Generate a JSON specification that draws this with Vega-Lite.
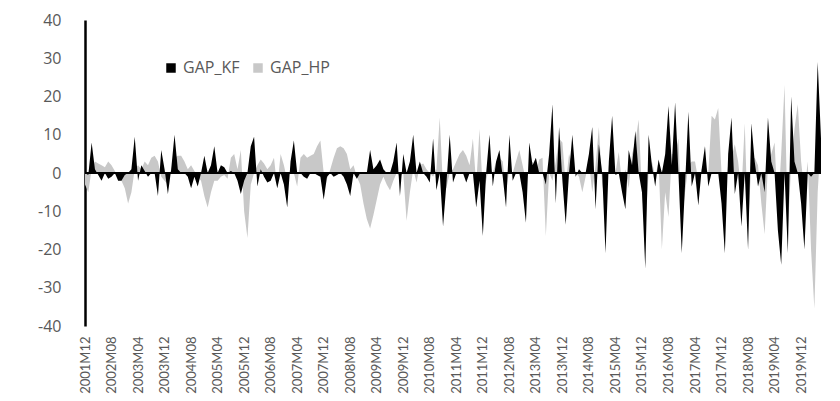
{
  "$schema": "https://vega.github.io/schema/vega-lite/v6.json",
  "width": 736,
  "height": 306,
  "autosize": {"type": "none"},
  "padding": {"left": 85, "top": 20, "right": 19, "bottom": 75},
  "background": "white",
  "config": {"view": {"stroke": null}, "font": "Open Sans", "axis": {"labelOverlap": false}},
  "layer": [
    {
      "data": {"values": [
        {"t":"2001M12","GAP_KF":0,"GAP_HP":-3},
        {"t":"2002M01","GAP_KF":-0.5,"GAP_HP":-5},
        {"t":"2002M02","GAP_KF":8,"GAP_HP":1},
        {"t":"2002M03","GAP_KF":1,"GAP_HP":3},
        {"t":"2002M04","GAP_KF":-0.5,"GAP_HP":2.5},
        {"t":"2002M05","GAP_KF":-2,"GAP_HP":2},
        {"t":"2002M06","GAP_KF":0,"GAP_HP":1.5},
        {"t":"2002M07","GAP_KF":-1.5,"GAP_HP":3},
        {"t":"2002M08","GAP_KF":-1,"GAP_HP":2},
        {"t":"2002M09","GAP_KF":0,"GAP_HP":0.5},
        {"t":"2002M10","GAP_KF":-2,"GAP_HP":-1},
        {"t":"2002M11","GAP_KF":-2,"GAP_HP":-2},
        {"t":"2002M12","GAP_KF":-0.5,"GAP_HP":-4},
        {"t":"2003M01","GAP_KF":0,"GAP_HP":-8},
        {"t":"2003M02","GAP_KF":1,"GAP_HP":-5},
        {"t":"2003M03","GAP_KF":9.5,"GAP_HP":1},
        {"t":"2003M04","GAP_KF":-2,"GAP_HP":2},
        {"t":"2003M05","GAP_KF":2,"GAP_HP":1},
        {"t":"2003M06","GAP_KF":0.5,"GAP_HP":3},
        {"t":"2003M07","GAP_KF":-1,"GAP_HP":2},
        {"t":"2003M08","GAP_KF":0,"GAP_HP":4},
        {"t":"2003M09","GAP_KF":0,"GAP_HP":4.5},
        {"t":"2003M10","GAP_KF":-6,"GAP_HP":3},
        {"t":"2003M11","GAP_KF":6,"GAP_HP":-1},
        {"t":"2003M12","GAP_KF":1,"GAP_HP":-2},
        {"t":"2004M01","GAP_KF":-5.5,"GAP_HP":-3},
        {"t":"2004M02","GAP_KF":1,"GAP_HP":1},
        {"t":"2004M03","GAP_KF":10,"GAP_HP":4},
        {"t":"2004M04","GAP_KF":1,"GAP_HP":4.5},
        {"t":"2004M05","GAP_KF":0,"GAP_HP":4.5},
        {"t":"2004M06","GAP_KF":0,"GAP_HP":3},
        {"t":"2004M07","GAP_KF":-1,"GAP_HP":1},
        {"t":"2004M08","GAP_KF":-4,"GAP_HP":2},
        {"t":"2004M09","GAP_KF":-1,"GAP_HP":0.5},
        {"t":"2004M10","GAP_KF":-3.5,"GAP_HP":-1},
        {"t":"2004M11","GAP_KF":0,"GAP_HP":-2},
        {"t":"2004M12","GAP_KF":4.5,"GAP_HP":-6},
        {"t":"2005M01","GAP_KF":0,"GAP_HP":-9},
        {"t":"2005M02","GAP_KF":2,"GAP_HP":-5},
        {"t":"2005M03","GAP_KF":7,"GAP_HP":-2},
        {"t":"2005M04","GAP_KF":0,"GAP_HP":-2},
        {"t":"2005M05","GAP_KF":2,"GAP_HP":-1},
        {"t":"2005M06","GAP_KF":1.5,"GAP_HP":-0.5},
        {"t":"2005M07","GAP_KF":0,"GAP_HP":-1.5},
        {"t":"2005M08","GAP_KF":0.5,"GAP_HP":4},
        {"t":"2005M09","GAP_KF":0,"GAP_HP":5},
        {"t":"2005M10","GAP_KF":-2,"GAP_HP":1},
        {"t":"2005M11","GAP_KF":-5.5,"GAP_HP":6},
        {"t":"2005M12","GAP_KF":-2,"GAP_HP":-10},
        {"t":"2006M01","GAP_KF":0,"GAP_HP":-17},
        {"t":"2006M02","GAP_KF":7,"GAP_HP":-3},
        {"t":"2006M03","GAP_KF":9.5,"GAP_HP":0},
        {"t":"2006M04","GAP_KF":-3.5,"GAP_HP":2},
        {"t":"2006M05","GAP_KF":1,"GAP_HP":3.5},
        {"t":"2006M06","GAP_KF":-1,"GAP_HP":2.5},
        {"t":"2006M07","GAP_KF":-2.5,"GAP_HP":1},
        {"t":"2006M08","GAP_KF":-2,"GAP_HP":2},
        {"t":"2006M09","GAP_KF":0,"GAP_HP":4},
        {"t":"2006M10","GAP_KF":-4,"GAP_HP":-4},
        {"t":"2006M11","GAP_KF":0,"GAP_HP":5},
        {"t":"2006M12","GAP_KF":-3,"GAP_HP":2},
        {"t":"2007M01","GAP_KF":-9,"GAP_HP":-2},
        {"t":"2007M02","GAP_KF":3,"GAP_HP":1},
        {"t":"2007M03","GAP_KF":8.5,"GAP_HP":0},
        {"t":"2007M04","GAP_KF":0,"GAP_HP":-3.5},
        {"t":"2007M05","GAP_KF":0,"GAP_HP":4},
        {"t":"2007M06","GAP_KF":-1,"GAP_HP":5},
        {"t":"2007M07","GAP_KF":-1.5,"GAP_HP":4},
        {"t":"2007M08","GAP_KF":0,"GAP_HP":4.5},
        {"t":"2007M09","GAP_KF":0,"GAP_HP":5},
        {"t":"2007M10","GAP_KF":-0.5,"GAP_HP":7},
        {"t":"2007M11","GAP_KF":-1,"GAP_HP":8.5},
        {"t":"2007M12","GAP_KF":-7,"GAP_HP":0},
        {"t":"2008M01","GAP_KF":-1,"GAP_HP":-1.5},
        {"t":"2008M02","GAP_KF":0,"GAP_HP":1},
        {"t":"2008M03","GAP_KF":-1,"GAP_HP":4},
        {"t":"2008M04","GAP_KF":-0.5,"GAP_HP":6.5},
        {"t":"2008M05","GAP_KF":0,"GAP_HP":7},
        {"t":"2008M06","GAP_KF":-1,"GAP_HP":6.5},
        {"t":"2008M07","GAP_KF":-3,"GAP_HP":5},
        {"t":"2008M08","GAP_KF":-6,"GAP_HP":1},
        {"t":"2008M09","GAP_KF":0,"GAP_HP":2},
        {"t":"2008M10","GAP_KF":-1.5,"GAP_HP":-1},
        {"t":"2008M11","GAP_KF":0,"GAP_HP":-3},
        {"t":"2008M12","GAP_KF":0,"GAP_HP":-8},
        {"t":"2009M01","GAP_KF":0,"GAP_HP":-12},
        {"t":"2009M02","GAP_KF":6,"GAP_HP":-14.5},
        {"t":"2009M03","GAP_KF":1,"GAP_HP":-11},
        {"t":"2009M04","GAP_KF":2,"GAP_HP":-7},
        {"t":"2009M05","GAP_KF":3.5,"GAP_HP":-3},
        {"t":"2009M06","GAP_KF":1,"GAP_HP":-1},
        {"t":"2009M07","GAP_KF":0,"GAP_HP":-3},
        {"t":"2009M08","GAP_KF":0,"GAP_HP":-4.5},
        {"t":"2009M09","GAP_KF":3,"GAP_HP":-2},
        {"t":"2009M10","GAP_KF":8,"GAP_HP":0},
        {"t":"2009M11","GAP_KF":-6,"GAP_HP":-1},
        {"t":"2009M12","GAP_KF":5,"GAP_HP":0},
        {"t":"2010M01","GAP_KF":0,"GAP_HP":-12.5},
        {"t":"2010M02","GAP_KF":3,"GAP_HP":-5},
        {"t":"2010M03","GAP_KF":10,"GAP_HP":1},
        {"t":"2010M04","GAP_KF":0,"GAP_HP":-2.5},
        {"t":"2010M05","GAP_KF":3,"GAP_HP":2},
        {"t":"2010M06","GAP_KF":0,"GAP_HP":2.5},
        {"t":"2010M07","GAP_KF":-1,"GAP_HP":1},
        {"t":"2010M08","GAP_KF":-2.5,"GAP_HP":0},
        {"t":"2010M09","GAP_KF":9,"GAP_HP":-1},
        {"t":"2010M10","GAP_KF":-4.5,"GAP_HP":1},
        {"t":"2010M11","GAP_KF":0,"GAP_HP":14.5},
        {"t":"2010M12","GAP_KF":-14,"GAP_HP":-4},
        {"t":"2011M01","GAP_KF":-3,"GAP_HP":-4},
        {"t":"2011M02","GAP_KF":10,"GAP_HP":0},
        {"t":"2011M03","GAP_KF":-2.5,"GAP_HP":1},
        {"t":"2011M04","GAP_KF":0,"GAP_HP":3},
        {"t":"2011M05","GAP_KF":0,"GAP_HP":5},
        {"t":"2011M06","GAP_KF":0,"GAP_HP":6},
        {"t":"2011M07","GAP_KF":-2.5,"GAP_HP":4.5},
        {"t":"2011M08","GAP_KF":0,"GAP_HP":2},
        {"t":"2011M09","GAP_KF":0,"GAP_HP":9},
        {"t":"2011M10","GAP_KF":-9,"GAP_HP":-3},
        {"t":"2011M11","GAP_KF":-2,"GAP_HP":11.5},
        {"t":"2011M12","GAP_KF":-16.5,"GAP_HP":-5},
        {"t":"2012M01","GAP_KF":0,"GAP_HP":-2},
        {"t":"2012M02","GAP_KF":10,"GAP_HP":2},
        {"t":"2012M03","GAP_KF":-3.5,"GAP_HP":0},
        {"t":"2012M04","GAP_KF":3,"GAP_HP":3},
        {"t":"2012M05","GAP_KF":6,"GAP_HP":4},
        {"t":"2012M06","GAP_KF":-1,"GAP_HP":3},
        {"t":"2012M07","GAP_KF":-9,"GAP_HP":-5},
        {"t":"2012M08","GAP_KF":10,"GAP_HP":1},
        {"t":"2012M09","GAP_KF":-2,"GAP_HP":0},
        {"t":"2012M10","GAP_KF":0,"GAP_HP":3},
        {"t":"2012M11","GAP_KF":0,"GAP_HP":6},
        {"t":"2012M12","GAP_KF":-5,"GAP_HP":2},
        {"t":"2013M01","GAP_KF":-13,"GAP_HP":-2},
        {"t":"2013M02","GAP_KF":8,"GAP_HP":1},
        {"t":"2013M03","GAP_KF":2,"GAP_HP":3},
        {"t":"2013M04","GAP_KF":4,"GAP_HP":0},
        {"t":"2013M05","GAP_KF":0,"GAP_HP":3.5},
        {"t":"2013M06","GAP_KF":0,"GAP_HP":4},
        {"t":"2013M07","GAP_KF":-3,"GAP_HP":-16.5},
        {"t":"2013M08","GAP_KF":5,"GAP_HP":0},
        {"t":"2013M09","GAP_KF":18,"GAP_HP":-2},
        {"t":"2013M10","GAP_KF":-8,"GAP_HP":3},
        {"t":"2013M11","GAP_KF":12,"GAP_HP":9},
        {"t":"2013M12","GAP_KF":-2,"GAP_HP":8},
        {"t":"2014M01","GAP_KF":-13.5,"GAP_HP":-3},
        {"t":"2014M02","GAP_KF":0,"GAP_HP":5},
        {"t":"2014M03","GAP_KF":10,"GAP_HP":2},
        {"t":"2014M04","GAP_KF":-1,"GAP_HP":0},
        {"t":"2014M05","GAP_KF":1,"GAP_HP":-1},
        {"t":"2014M06","GAP_KF":0,"GAP_HP":-5},
        {"t":"2014M07","GAP_KF":0,"GAP_HP":-1},
        {"t":"2014M08","GAP_KF":5,"GAP_HP":3},
        {"t":"2014M09","GAP_KF":12,"GAP_HP":-5},
        {"t":"2014M10","GAP_KF":-9.5,"GAP_HP":2},
        {"t":"2014M11","GAP_KF":7.5,"GAP_HP":12},
        {"t":"2014M12","GAP_KF":0,"GAP_HP":-3},
        {"t":"2015M01","GAP_KF":-21,"GAP_HP":-8},
        {"t":"2015M02","GAP_KF":3,"GAP_HP":2},
        {"t":"2015M03","GAP_KF":15,"GAP_HP":1},
        {"t":"2015M04","GAP_KF":-0.5,"GAP_HP":0},
        {"t":"2015M05","GAP_KF":0,"GAP_HP":5.5},
        {"t":"2015M06","GAP_KF":-5,"GAP_HP":-3},
        {"t":"2015M07","GAP_KF":-9.5,"GAP_HP":1},
        {"t":"2015M08","GAP_KF":6,"GAP_HP":-4},
        {"t":"2015M09","GAP_KF":2,"GAP_HP":5},
        {"t":"2015M10","GAP_KF":11,"GAP_HP":8},
        {"t":"2015M11","GAP_KF":0,"GAP_HP":14},
        {"t":"2015M12","GAP_KF":-5,"GAP_HP":-5},
        {"t":"2016M01","GAP_KF":-25,"GAP_HP":-15},
        {"t":"2016M02","GAP_KF":10,"GAP_HP":0},
        {"t":"2016M03","GAP_KF":2,"GAP_HP":3},
        {"t":"2016M04","GAP_KF":-3.5,"GAP_HP":-1},
        {"t":"2016M05","GAP_KF":3.5,"GAP_HP":3},
        {"t":"2016M06","GAP_KF":0,"GAP_HP":-20},
        {"t":"2016M07","GAP_KF":5,"GAP_HP":-5},
        {"t":"2016M08","GAP_KF":17.5,"GAP_HP":-11.5},
        {"t":"2016M09","GAP_KF":2,"GAP_HP":5},
        {"t":"2016M10","GAP_KF":18.5,"GAP_HP":5},
        {"t":"2016M11","GAP_KF":0,"GAP_HP":9},
        {"t":"2016M12","GAP_KF":-21,"GAP_HP":-12.5},
        {"t":"2017M01","GAP_KF":-3,"GAP_HP":-5},
        {"t":"2017M02","GAP_KF":16,"GAP_HP":2},
        {"t":"2017M03","GAP_KF":-3.5,"GAP_HP":3},
        {"t":"2017M04","GAP_KF":0,"GAP_HP":3},
        {"t":"2017M05","GAP_KF":-8.5,"GAP_HP":-2},
        {"t":"2017M06","GAP_KF":1,"GAP_HP":1},
        {"t":"2017M07","GAP_KF":7,"GAP_HP":2},
        {"t":"2017M08","GAP_KF":-3.5,"GAP_HP":0},
        {"t":"2017M09","GAP_KF":0,"GAP_HP":15},
        {"t":"2017M10","GAP_KF":0,"GAP_HP":14},
        {"t":"2017M11","GAP_KF":0,"GAP_HP":17},
        {"t":"2017M12","GAP_KF":-8,"GAP_HP":0},
        {"t":"2018M01","GAP_KF":-21,"GAP_HP":-5},
        {"t":"2018M02","GAP_KF":5,"GAP_HP":2},
        {"t":"2018M03","GAP_KF":14.5,"GAP_HP":4},
        {"t":"2018M04","GAP_KF":-5.5,"GAP_HP":7.5},
        {"t":"2018M05","GAP_KF":0,"GAP_HP":3},
        {"t":"2018M06","GAP_KF":-14,"GAP_HP":-5},
        {"t":"2018M07","GAP_KF":0,"GAP_HP":13},
        {"t":"2018M08","GAP_KF":-20,"GAP_HP":-15},
        {"t":"2018M09","GAP_KF":13,"GAP_HP":3},
        {"t":"2018M10","GAP_KF":3,"GAP_HP":4},
        {"t":"2018M11","GAP_KF":-3.5,"GAP_HP":2},
        {"t":"2018M12","GAP_KF":0,"GAP_HP":-8},
        {"t":"2019M01","GAP_KF":-5,"GAP_HP":-16},
        {"t":"2019M02","GAP_KF":14.5,"GAP_HP":2},
        {"t":"2019M03","GAP_KF":3,"GAP_HP":5},
        {"t":"2019M04","GAP_KF":0,"GAP_HP":8},
        {"t":"2019M05","GAP_KF":-15,"GAP_HP":-10},
        {"t":"2019M06","GAP_KF":-24,"GAP_HP":5},
        {"t":"2019M07","GAP_KF":0,"GAP_HP":23},
        {"t":"2019M08","GAP_KF":-21,"GAP_HP":-15},
        {"t":"2019M09","GAP_KF":20,"GAP_HP":2},
        {"t":"2019M10","GAP_KF":3,"GAP_HP":11.5},
        {"t":"2019M11","GAP_KF":0,"GAP_HP":18},
        {"t":"2019M12","GAP_KF":-8,"GAP_HP":3},
        {"t":"2020M01","GAP_KF":-20,"GAP_HP":-5},
        {"t":"2020M02","GAP_KF":0,"GAP_HP":3},
        {"t":"2020M03","GAP_KF":-1,"GAP_HP":-20},
        {"t":"2020M04","GAP_KF":0,"GAP_HP":-35.5},
        {"t":"2020M05","GAP_KF":29,"GAP_HP":-5},
        {"t":"2020M06","GAP_KF":9,"GAP_HP":9}
      ]},
      "transform": [{"fold": ["GAP_KF", "GAP_HP"], "as": ["series", "value"]}],
      "encoding": {
        "x": {
          "field": "t", "type": "ordinal", "sort": null,
          "scale": {"type": "point", "padding": 0},
          "axis": {
            "values": ["2001M12","2002M08","2003M04","2003M12","2004M08","2005M04","2005M12","2006M08","2007M04","2007M12","2008M08","2009M04","2009M12","2010M08","2011M04","2011M12","2012M08","2013M04","2013M12","2014M08","2015M04","2015M12","2016M08","2017M04","2017M12","2018M08","2019M04","2019M12"],
            "title": null, "labelAngle": -90, "domain": false, "ticks": false, "grid": false,
            "labelFont": "Lato", "labelFontSize": 13, "labelColor": "#595959", "labelPadding": 10
          }
        },
        "y": {
          "field": "value", "type": "quantitative", "stack": null,
          "scale": {"domain": [-40, 40], "nice": false, "zero": false},
          "axis": {
            "values": [-40, -30, -20, -10, 0, 10, 20, 30, 40],
            "labelExpr": "datum.value < 0 ? '-' + abs(datum.value) : '' + datum.value",
            "labelOverlap": false,
            "title": null, "grid": false, "ticks": false,
            "domainColor": "#000000", "domainWidth": 2.5,
            "labelFont": "Open Sans", "labelFontSize": 16, "labelColor": "#595959", "labelPadding": 24
          }
        },
        "color": {
          "field": "series", "type": "nominal",
          "scale": {"domain": ["GAP_KF", "GAP_HP"], "range": ["#000000", "#C8C8C8"]},
          "legend": {
            "title": null, "orient": "none", "legendX": 78, "legendY": 40,
            "direction": "horizontal", "symbolType": "square", "symbolSize": 90,
            "symbolStrokeWidth": 0, "symbolOpacity": 1,
            "labelFont": "Open Sans", "labelFontSize": 16, "labelColor": "#595959",
            "labelOffset": 4, "columnPadding": 10
          }
        }
      },
      "layer": [
        {"transform": [{"filter": "datum.series == 'GAP_HP'"}], "mark": {"type": "area", "interpolate": "linear", "opacity": 1}},
        {"transform": [{"filter": "datum.series == 'GAP_KF'"}], "mark": {"type": "area", "interpolate": "linear", "opacity": 1}}
      ]
    },
    {
      "data": {"values": [{}]},
      "mark": {"type": "rule", "color": "#000000", "strokeWidth": 2},
      "encoding": {
        "y": {
          "datum": 0, "type": "quantitative",
          "axis": {
            "values": [-40, -30, -20, -10, 0, 10, 20, 30, 40],
            "labelExpr": "datum.value < 0 ? '-' + abs(datum.value) : '' + datum.value",
            "labelOverlap": false,
            "title": null, "grid": false, "ticks": false,
            "domainColor": "#000000", "domainWidth": 2.5,
            "labelFont": "Open Sans", "labelFontSize": 16, "labelColor": "#595959", "labelPadding": 24
          }
        }
      }
    }
  ]
}
